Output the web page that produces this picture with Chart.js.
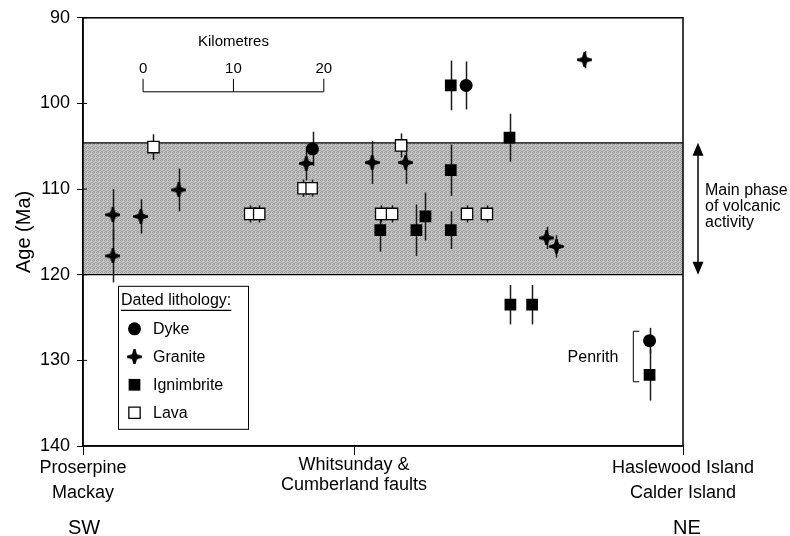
<!DOCTYPE html>
<html>
<head>
<meta charset="utf-8">
<script src="https://cdn.jsdelivr.net/npm/chart.js@4.4.0/dist/chart.umd.min.js"></script>
<style>
body { margin: 0; background: #fff; }
</style>
</head>
<body>
<canvas id="chart" width="790" height="536"></canvas>
<script>
// position along the SW-NE transect in km, age in Ma, error in Ma
const dykeX = [25.4, 42.4, 62.7];
const dykeAge = [105.3, 97.9, 127.7];
const dykeErr = [2.0, 2.8, 1.5];

const graniteX = [3.3, 3.3, 6.4, 10.6, 24.7, 32.0, 35.7, 51.3, 52.4, 55.5];
const graniteAge = [113.0, 117.8, 113.2, 110.1, 107.0, 106.9, 106.9, 115.7, 116.7, 94.9];
const graniteErr = [3.0, 3.1, 2.0, 2.5, 2.0, 2.5, 2.5, 1.3, 1.3, 1.0];

const ignimbriteX = [32.9, 36.9, 37.9, 40.7, 40.7, 40.7, 47.2, 47.3, 49.7, 62.7];
const ignimbriteAge = [114.8, 114.8, 113.2, 97.9, 107.8, 114.8, 104.0, 123.5, 123.5, 131.7];
const ignimbriteErr = [2.5, 3.0, 2.8, 2.9, 3.0, 2.2, 2.8, 2.3, 2.3, 3.0];

const lavaX = [7.8, 18.5, 19.5, 24.4, 25.3, 33.0, 34.2, 35.2, 42.5, 44.7];
const lavaAge = [105.1, 112.9, 112.9, 109.9, 109.9, 112.9, 112.9, 104.9, 112.9, 112.9];
const lavaErr = [1.5, 1.0, 1.0, 1.0, 1.0, 1.0, 1.0, 1.4, 1.0, 1.0];

const xTickValues = [0, 30, 66.4];
const xTickLabels = [['Proserpine', 'Mackay'], ['Whitsunday &', 'Cumberland faults'], ['Haslewood Island', 'Calder Island']];
const directionLabels = ['SW', 'NE'];

const mainPhaseTop = 104.6;
const mainPhaseBottom = 120;
const penrithTop = 126.6;
const penrithBottom = 132.5;
const penrithX = 60.9;

const kmBarStart = 6.65;
const kmBarTicks = [0, 10, 20];

const FONT = '"Liberation Sans", Arial, Helvetica, sans-serif';
Chart.defaults.font.family = FONT;
Chart.defaults.color = '#000';

function toPoints(xs, ys, errs) {
    return xs.map((x, i) => ({ x: x, y: ys[i], err: errs[i] }));
}

function graniteMark() {
    let c = document.createElement('canvas');
    c.width = 15;
    c.height = 15;
    let g = c.getContext('2d');
    let m = 7.5;
    g.fillStyle = '#000';
    g.beginPath();
    g.moveTo(m - 1, 0); g.lineTo(m + 1, 0); g.lineTo(m + 2.5, m - 2.5);
    g.lineTo(15, m - 1); g.lineTo(15, m + 1); g.lineTo(m + 2.5, m + 2.5);
    g.lineTo(m + 1, 15); g.lineTo(m - 1, 15); g.lineTo(m - 2.5, m + 2.5);
    g.lineTo(0, m + 1); g.lineTo(0, m - 1); g.lineTo(m - 2.5, m - 2.5);
    g.closePath();
    g.fill();
    return c;
}

function stipple(ctx) {
    let c = document.createElement('canvas');
    c.width = 4;
    c.height = 4;
    let g = c.getContext('2d');
    g.fillStyle = '#c8c8c8';
    g.fillRect(0, 0, 4, 4);
    g.fillStyle = '#9c9c9c';
    [[0, 0], [2, 0], [1, 1], [3, 2], [0, 2], [2, 3], [1, 3]].forEach(p => g.fillRect(p[0], p[1], 1, 1));
    return ctx.createPattern(c, 'repeat');
}

// shaded band and error bars, under the markers
const bandAndErrors = {
    id: 'bandAndErrors',
    beforeDatasetsDraw(chart) {
        let ctx = chart.ctx, x = chart.scales.x, y = chart.scales.y, a = chart.chartArea;
        ctx.save();
        let top = y.getPixelForValue(mainPhaseTop);
        let bottom = y.getPixelForValue(mainPhaseBottom);
        ctx.fillStyle = stipple(ctx);
        ctx.fillRect(a.left, top, a.right - a.left, bottom - top);
        ctx.strokeStyle = '#000';
        ctx.lineWidth = 1.2;
        ctx.beginPath();
        ctx.moveTo(a.left, top); ctx.lineTo(a.right, top);
        ctx.moveTo(a.left, bottom); ctx.lineTo(a.right, bottom);
        ctx.stroke();

        ctx.strokeStyle = '#1a1a1a';
        ctx.lineWidth = 1.5;
        chart.data.datasets.forEach(ds => {
            ds.data.forEach(p => {
                let px = Math.round(x.getPixelForValue(p.x)) + 0.5;
                ctx.beginPath();
                ctx.moveTo(px, y.getPixelForValue(p.y - p.err));
                ctx.lineTo(px, y.getPixelForValue(p.y + p.err));
                ctx.stroke();
            });
        });
        ctx.restore();
    }
};

function arrowHead(ctx, x, y, dir) {
    ctx.beginPath();
    ctx.moveTo(x, y);
    ctx.lineTo(x - 5.5, y + dir * 13);
    ctx.lineTo(x + 5.5, y + dir * 13);
    ctx.closePath();
    ctx.fill();
}

const annotations = {
    id: 'annotations',
    afterDraw(chart) {
        let ctx = chart.ctx, x = chart.scales.x, y = chart.scales.y, a = chart.chartArea;
        ctx.save();
        ctx.strokeStyle = '#000';
        ctx.fillStyle = '#000';

        // frame
        ctx.lineWidth = 1.5;
        ctx.strokeRect(a.left, a.top, a.right - a.left, a.bottom - a.top);
        ctx.lineWidth = 1;
        y.ticks.forEach(t => {
            let py = y.getPixelForValue(t.value);
            ctx.beginPath();
            ctx.moveTo(a.left, py);
            ctx.lineTo(a.left + 4, py);
            ctx.stroke();
        });

        // km scale bar
        let barY = a.top + 74;
        ctx.lineWidth = 1;
        ctx.beginPath();
        ctx.moveTo(x.getPixelForValue(kmBarStart), barY);
        ctx.lineTo(x.getPixelForValue(kmBarStart + kmBarTicks[kmBarTicks.length - 1]), barY);
        kmBarTicks.forEach(k => {
            let px = x.getPixelForValue(kmBarStart + k);
            ctx.moveTo(px, barY);
            ctx.lineTo(px, barY - 13);
        });
        ctx.stroke();
        ctx.font = '15px ' + FONT;
        ctx.textAlign = 'center';
        ctx.textBaseline = 'middle';
        kmBarTicks.forEach(k => {
            ctx.fillText(String(k), x.getPixelForValue(kmBarStart + k), a.top + 51);
        });
        ctx.fillText('Kilometres', x.getPixelForValue(kmBarStart + 10), a.top + 24);

        // main phase arrow
        let ax = a.right + 15;
        let t = y.getPixelForValue(mainPhaseTop), b = y.getPixelForValue(mainPhaseBottom);
        ctx.lineWidth = 1.5;
        ctx.beginPath();
        ctx.moveTo(ax, t + 8);
        ctx.lineTo(ax, b - 8);
        ctx.stroke();
        arrowHead(ctx, ax, t, 1);
        arrowHead(ctx, ax, b, -1);
        ctx.font = '16px ' + FONT;
        ctx.textAlign = 'left';
        ['Main phase', 'of volcanic', 'activity'].forEach((s, i) => {
            ctx.fillText(s, a.right + 22, 191 + i * 16);
        });

        // Penrith bracket
        let bx = x.getPixelForValue(penrithX);
        let pt = y.getPixelForValue(penrithTop), pb = y.getPixelForValue(penrithBottom);
        ctx.lineWidth = 1;
        ctx.beginPath();
        ctx.moveTo(bx + 6, pt); ctx.lineTo(bx, pt); ctx.lineTo(bx, pb); ctx.lineTo(bx + 6, pb);
        ctx.stroke();
        ctx.textAlign = 'right';
        ctx.fillText('Penrith', bx - 15, (pt + pb) / 2 + 1);

        // SW / NE
        ctx.font = '20px ' + FONT;
        ctx.textAlign = 'center';
        ctx.fillText(directionLabels[0], x.getPixelForValue(xTickValues[0]) + 1, 528);
        ctx.fillText(directionLabels[1], x.getPixelForValue(xTickValues[xTickValues.length - 1]) + 4, 528);

        // legend box
        let lx = a.left + 35, ly = a.top + 268;
        ctx.lineWidth = 1;
        ctx.strokeRect(lx + 0.5, ly + 0.5, 130, 143);
        ctx.font = '16px ' + FONT;
        ctx.textAlign = 'left';
        ctx.fillText('Dated lithology:', lx + 3, ly + 15);
        let w = ctx.measureText('Dated lithology:').width;
        ctx.lineWidth = 1.3;
        ctx.beginPath();
        ctx.moveTo(lx + 3, ly + 24.5);
        ctx.lineTo(lx + 3 + w, ly + 24.5);
        ctx.stroke();
        chart.data.datasets.forEach((ds, i) => {
            let cy = ly + 43 + i * 28;
            ctx.fillStyle = ds.pointBackgroundColor;
            ctx.strokeStyle = ds.pointBorderColor;
            ctx.lineWidth = ds.pointBorderWidth;
            Chart.helpers.drawPoint(ctx, {
                pointStyle: ds.pointStyle,
                radius: ds.pointRadius,
                rotation: 0,
                borderWidth: ds.pointBorderWidth
            }, lx + 16.5, cy);
            ctx.fillStyle = '#000';
            ctx.fillText(ds.label, lx + 35, cy + 1);
        });
        ctx.restore();
    }
};

const graniteImg = graniteMark();

new Chart(document.getElementById('chart').getContext('2d'), {
    type: 'scatter',
    data: {
        datasets: [
            {
                label: 'Dyke',
                data: toPoints(dykeX, dykeAge, dykeErr),
                pointStyle: 'circle',
                pointRadius: 6.5,
                pointBackgroundColor: '#000',
                pointBorderColor: '#000',
                pointBorderWidth: 0
            },
            {
                label: 'Granite',
                data: toPoints(graniteX, graniteAge, graniteErr),
                pointStyle: graniteImg,
                pointRadius: 7.5,
                pointBackgroundColor: '#000',
                pointBorderColor: '#000',
                pointBorderWidth: 0
            },
            {
                label: 'Ignimbrite',
                data: toPoints(ignimbriteX, ignimbriteAge, ignimbriteErr),
                pointStyle: 'rect',
                pointRadius: 8.3,
                pointBackgroundColor: '#000',
                pointBorderColor: '#000',
                pointBorderWidth: 0
            },
            {
                label: 'Lava',
                data: toPoints(lavaX, lavaAge, lavaErr),
                pointStyle: 'rect',
                pointRadius: 8,
                pointBackgroundColor: '#fff',
                pointBorderColor: '#000',
                pointBorderWidth: 1.3
            }
        ]
    },
    options: {
        responsive: false,
        animation: false,
        layout: { padding: { left: 0, top: 16, right: 107, bottom: 0 } },
        plugins: {
            legend: { display: false },
            tooltip: { enabled: false }
        },
        scales: {
            x: {
                type: 'linear',
                min: xTickValues[0],
                max: xTickValues[xTickValues.length - 1],
                afterBuildTicks: s => { s.ticks = xTickValues.map(v => ({ value: v })); },
                afterFit: s => { s.height = 90; },
                ticks: {
                    autoSkip: false,
                    maxRotation: 0,
                    padding: 0,
                    color: '#000',
                    font: c => ({ size: 18, lineHeight: c.index === 1 ? 1.1 : 1.4 }),
                    callback: (v, i) => xTickLabels[i]
                },
                grid: { drawOnChartArea: false, tickLength: 9, color: '#000' },
                border: { color: '#000', width: 1.5 }
            },
            y: {
                type: 'linear',
                reverse: true,
                min: 90,
                max: 140,
                afterFit: s => { s.width = 83; },
                ticks: { stepSize: 10, padding: 7, color: '#000', font: { size: 18 } },
                grid: { drawOnChartArea: false, tickLength: 6, color: '#000' },
                border: { color: '#000', width: 1.5 },
                title: {
                    display: true,
                    text: 'Age (Ma)',
                    color: '#000',
                    font: { size: 20 },
                    padding: { top: 12, bottom: 0 }
                }
            }
        }
    },
    plugins: [bandAndErrors, annotations]
});
</script>
</body>
</html>
